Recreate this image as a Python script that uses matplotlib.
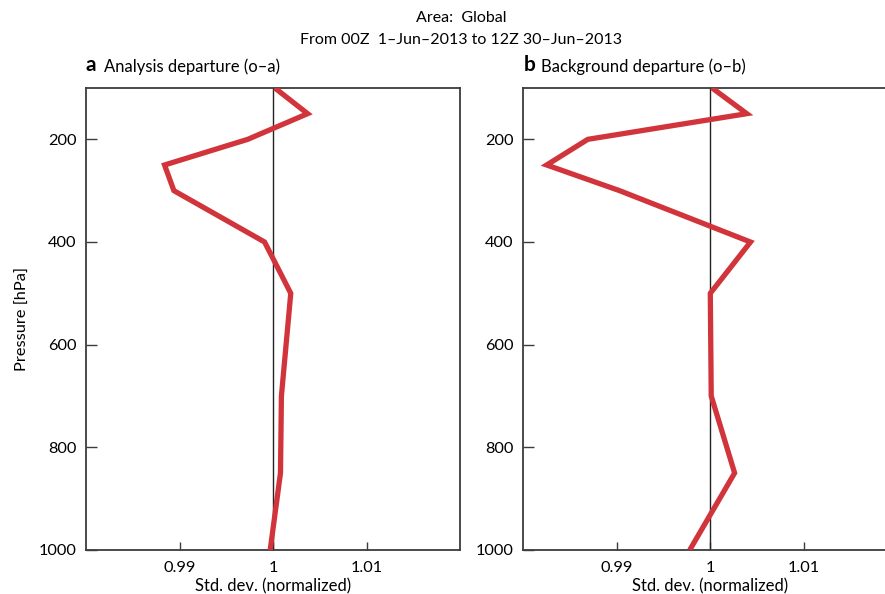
import matplotlib
matplotlib.use("Agg")
import matplotlib.pyplot as plt
from matplotlib.transforms import offset_copy

plt.rcParams['font.family'] = ['Lato', 'DejaVu Sans']

# Pressure levels (hPa) and normalized standard deviations of departures
pressure = [100, 150, 200, 250, 300, 400, 500, 700, 850, 1000]
analysis_dep = [1.0002, 1.0037, 0.9973, 0.9884, 0.9894, 0.9991, 1.0019, 1.0009, 1.0008, 0.9997]
background_dep = [1.0002, 1.0039, 0.9869, 0.9825, 0.9903, 1.0043, 1.0000, 1.0001, 1.0026, 0.9978]

x_ticks = [0.99, 1.0, 1.01]
x_ticklabels = ["0.99", "1", "1.01"]
y_ticks = [200, 400, 600, 800, 1000]

panels = [
    ("a", "Analysis departure (o\u2013a)", analysis_dep),
    ("b", "Background departure (o\u2013b)", background_dep),
]

W, H = 885, 594
fig = plt.figure(figsize=(W / 100, H / 100), dpi=100)

line_color = "#d1343a"
spine_color = "#3c3c3c"

lefts = [86, 523.3]
axw, top, bot = 374, 88, 550
axes = []
for (letter, title, values), lx in zip(panels, lefts):
    ax = fig.add_axes([lx / W, 1 - bot / H, axw / W, (bot - top) / H])
    axes.append(ax)
    ax.axvline(1.0, color="#222222", lw=1.0, zorder=2)
    ax.plot(values, pressure, color=line_color, lw=3.8, solid_joinstyle="miter",
            solid_capstyle="butt", zorder=3, clip_on=True)
    ax.set_xlim(0.98, 1.02)
    ax.set_ylim(1000, 100)
    ax.set_xticks(x_ticks)
    ax.set_xticklabels(x_ticklabels)
    ax.set_yticks(y_ticks)
    ax.tick_params(axis="y", direction="in", length=8, width=1.0, color=spine_color,
                   labelsize=11.8, pad=7, left=True, right=False)
    ax.tick_params(axis="x", direction="in", length=5.5, width=1.0, color=spine_color,
                   labelsize=11.8, pad=8, top=False)
    for s in ax.spines.values():
        s.set_color(spine_color)
        s.set_linewidth(1.3)
    ax.set_xlabel("Std. dev. (normalized)", fontsize=12, labelpad=2.5)
    ax.text(0.0, 1.028, letter, transform=ax.transAxes, fontsize=15,
            fontweight="bold", ha="left", va="bottom")
    trans = offset_copy(ax.transAxes, fig=fig, x=13, y=0, units="points")
    ax.text(0.0, 1.028, title, transform=trans, fontsize=12, ha="left", va="bottom")

axes[0].set_ylabel("Pressure [hPa]", fontsize=11.8, labelpad=6)

fig.text(461 / W, 1 - 18 / H, "Area:  Global", ha="center", va="center", fontsize=11.5)
fig.text(461 / W, 1 - 40 / H, "From 00Z  1\u2013Jun\u20132013 to 12Z 30\u2013Jun\u20132013",
         ha="center", va="center", fontsize=11.5)

fig.savefig("out.png", dpi=100)
